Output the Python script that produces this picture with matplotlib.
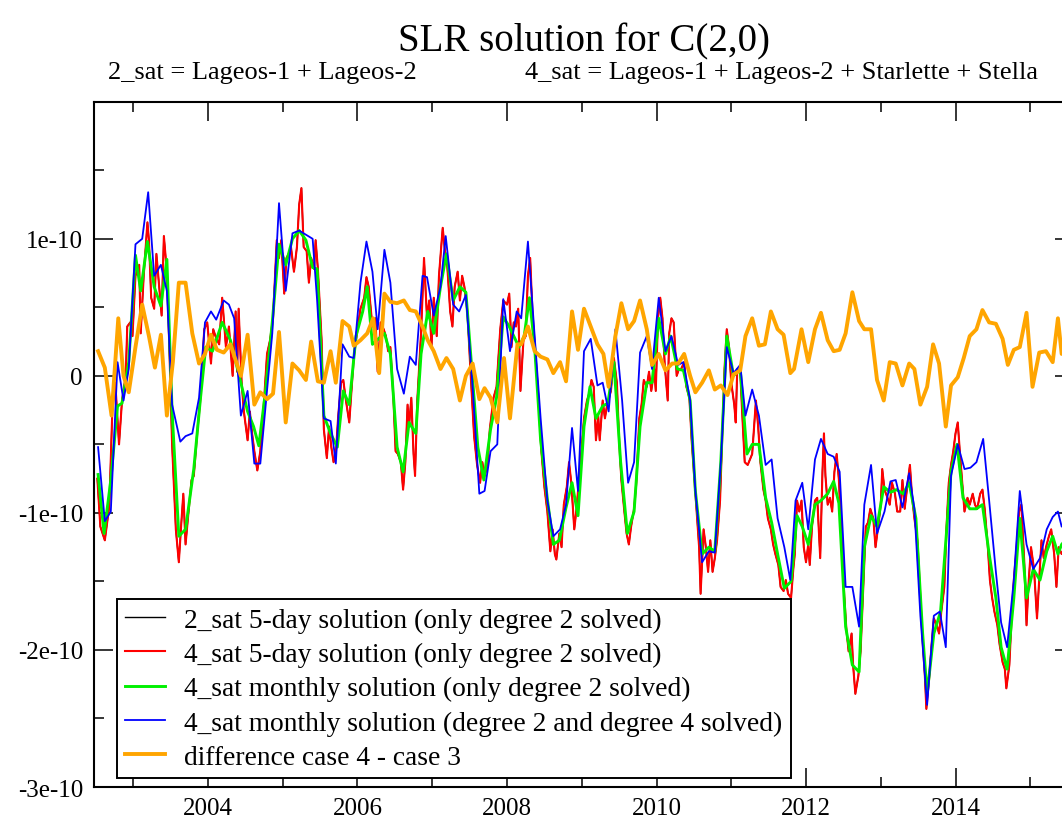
import numpy as np
import matplotlib.pyplot as plt
from matplotlib.ticker import MultipleLocator, FixedLocator, FuncFormatter

plt.rcParams['font.family'] = ['Liberation Serif', 'DejaVu Serif']

UNIT = 1e-10  # all values below are in units of 1e-10

# (decimal year, C(2,0) anomaly / 1e-10)

# 4_sat monthly solution (only degree 2 solved)
sat4_monthly_d2 = [
    (2002.53, -0.72), (2002.61, -1.15), (2002.70, -0.76), (2002.79, -0.22), (2002.85, -0.20),
    (2002.94, 0.10), (2003.03, 0.88), (2003.10, 0.62), (2003.19, 0.98), (2003.28, 0.65),
    (2003.37, 0.51), (2003.45, 0.85), (2003.52, -0.26), (2003.61, -1.17), (2003.70, -1.12),
    (2003.81, -0.68), (2003.90, -0.16), (2003.97, 0.21), (2004.06, 0.18), (2004.19, 0.39),
    (2004.30, 0.26), (2004.44, -0.05), (2004.53, -0.26), (2004.61, -0.37), (2004.68, -0.51),
    (2004.77, -0.11), (2004.86, 0.39), (2004.95, 0.96), (2005.04, 0.81), (2005.13, 1.00),
    (2005.22, 1.06), (2005.31, 0.99), (2005.40, 0.79), (2005.46, 0.78), (2005.55, -0.29),
    (2005.64, -0.42), (2005.73, -0.52), (2005.81, -0.11), (2005.89, -0.21), (2005.98, 0.29),
    (2006.07, 0.47), (2006.13, 0.65), (2006.20, 0.23), (2006.36, 0.31), (2006.44, 0.16),
    (2006.53, -0.52), (2006.61, -0.70), (2006.69, -0.34), (2006.78, -0.42), (2006.85, 0.16),
    (2006.94, 0.47), (2007.02, 0.31), (2007.11, 0.65), (2007.19, 0.89), (2007.28, 0.55),
    (2007.37, 0.65), (2007.45, 0.61), (2007.54, -0.03), (2007.61, -0.52), (2007.69, -0.76),
    (2007.78, -0.39), (2007.86, -0.16), (2007.95, 0.43), (2008.03, 0.36), (2008.16, 0.21),
    (2008.23, 0.29), (2008.30, 0.57), (2008.37, 0.21), (2008.45, -0.47), (2008.54, -0.90),
    (2008.62, -1.23), (2008.70, -1.20), (2008.79, -0.96), (2008.87, -0.78), (2008.95, -1.02),
    (2009.03, -0.37), (2009.11, -0.08), (2009.19, -0.31), (2009.28, -0.22), (2009.35, -0.20),
    (2009.43, 0.10), (2009.52, -0.63), (2009.61, -1.15), (2009.70, -0.99), (2009.78, -0.37),
    (2009.87, -0.05), (2009.94, -0.05), (2010.03, 0.42), (2010.12, 0.16), (2010.19, 0.29),
    (2010.28, 0.05), (2010.36, 0.04), (2010.45, -0.18), (2010.52, -0.84), (2010.61, -1.30),
    (2010.70, -1.25), (2010.78, -1.28), (2010.86, -0.63), (2010.94, 0.29), (2011.03, 0.00),
    (2011.12, 0.05), (2011.21, -0.57), (2011.28, -0.50), (2011.37, -0.50), (2011.46, -0.89),
    (2011.54, -1.07), (2011.62, -1.30), (2011.71, -1.55), (2011.80, -1.50), (2011.88, -1.02),
    (2011.95, -1.10), (2012.03, -1.23), (2012.12, -0.94), (2012.20, -0.91), (2012.29, -0.86),
    (2012.37, -0.77), (2012.44, -0.93), (2012.53, -1.83), (2012.62, -2.11), (2012.71, -2.16),
    (2012.78, -1.25), (2012.87, -1.02), (2012.95, -1.10), (2013.04, -0.81), (2013.13, -0.85),
    (2013.21, -0.83), (2013.30, -0.86), (2013.38, -0.78), (2013.47, -1.04), (2013.56, -1.88),
    (2013.62, -2.32), (2013.71, -1.88), (2013.80, -1.72), (2013.94, -0.70), (2014.02, -0.50),
    (2014.10, -0.89), (2014.19, -0.97), (2014.28, -0.97), (2014.36, -0.94), (2014.45, -1.30),
    (2014.54, -1.62), (2014.61, -1.98), (2014.69, -2.14), (2014.78, -1.62), (2014.86, -1.04),
    (2014.95, -1.62), (2015.04, -1.41), (2015.13, -1.49), (2015.22, -1.28), (2015.30, -1.17),
    (2015.37, -1.30), (2015.42, -1.23), (2015.50, -1.18),
]

# 4_sat monthly solution (degree 2 and degree 4 solved)
sat4_monthly_d24 = [
    (2002.53, -0.52), (2002.62, -1.06), (2002.70, -0.99), (2002.79, 0.10), (2002.87, -0.18),
    (2002.94, 0.05), (2003.03, 0.96), (2003.12, 1.00), (2003.20, 1.34), (2003.28, 0.73),
    (2003.37, 0.81), (2003.45, 0.62), (2003.52, -0.21), (2003.63, -0.48), (2003.70, -0.44),
    (2003.79, -0.42), (2003.88, -0.16), (2003.96, 0.39), (2004.04, 0.47), (2004.11, 0.41),
    (2004.21, 0.55), (2004.28, 0.52), (2004.35, 0.42), (2004.44, -0.29), (2004.53, -0.11),
    (2004.62, -0.64), (2004.70, -0.64), (2004.79, -0.11), (2004.86, 0.31), (2004.95, 1.26),
    (2005.04, 0.62), (2005.13, 1.04), (2005.22, 1.06), (2005.31, 1.03), (2005.40, 1.00),
    (2005.46, 0.55), (2005.55, -0.31), (2005.64, -0.33), (2005.71, -0.64), (2005.80, 0.23),
    (2005.89, 0.14), (2005.95, 0.13), (2006.04, 0.68), (2006.12, 0.98), (2006.20, 0.76),
    (2006.27, 0.34), (2006.36, 0.92), (2006.44, 0.68), (2006.53, 0.05), (2006.62, -0.13),
    (2006.70, 0.14), (2006.78, 0.08), (2006.87, 0.73), (2006.93, 0.72), (2007.02, 0.44),
    (2007.11, 0.65), (2007.18, 1.02), (2007.28, 0.52), (2007.36, 0.47), (2007.45, 0.59),
    (2007.54, -0.08), (2007.63, -0.86), (2007.70, -0.84), (2007.78, -0.55), (2007.87, -0.50),
    (2007.95, 0.56), (2008.04, 0.18), (2008.13, 0.47), (2008.19, 0.42), (2008.28, 0.98),
    (2008.37, 0.29), (2008.45, -0.31), (2008.54, -0.91), (2008.62, -1.17), (2008.71, -1.12),
    (2008.79, -0.94), (2008.87, -0.38), (2008.95, -0.84), (2009.03, 0.18), (2009.12, 0.27),
    (2009.21, -0.07), (2009.28, -0.05), (2009.36, -0.26), (2009.45, 0.34), (2009.54, -0.18),
    (2009.62, -0.78), (2009.70, -0.63), (2009.78, 0.17), (2009.87, 0.29), (2009.94, 0.05),
    (2010.03, 0.57), (2010.12, 0.18), (2010.20, 0.29), (2010.29, 0.08), (2010.36, 0.10),
    (2010.45, -0.18), (2010.52, -0.84), (2010.61, -1.36), (2010.70, -1.28), (2010.78, -1.29),
    (2010.86, -0.63), (2010.94, 0.21), (2011.03, 0.02), (2011.12, 0.08), (2011.19, -0.29),
    (2011.28, -0.10), (2011.37, -0.29), (2011.46, -0.65), (2011.54, -0.61), (2011.62, -1.04),
    (2011.71, -1.25), (2011.79, -1.49), (2011.86, -0.91), (2011.95, -0.78), (2012.03, -1.12),
    (2012.12, -0.61), (2012.20, -0.46), (2012.29, -0.57), (2012.37, -0.59), (2012.45, -0.70),
    (2012.53, -1.54), (2012.62, -1.54), (2012.71, -1.83), (2012.78, -0.94), (2012.87, -0.65),
    (2012.95, -1.15), (2013.05, -0.99), (2013.13, -0.77), (2013.20, -0.76), (2013.29, -0.96),
    (2013.38, -0.71), (2013.45, -0.97), (2013.53, -1.75), (2013.62, -2.40), (2013.71, -1.75),
    (2013.79, -1.72), (2013.87, -1.98), (2013.94, -0.73), (2014.03, -0.50), (2014.12, -0.68),
    (2014.20, -0.67), (2014.28, -0.63), (2014.37, -0.46), (2014.45, -0.91), (2014.54, -1.43),
    (2014.61, -1.80), (2014.69, -1.98), (2014.78, -1.49), (2014.86, -0.84), (2014.95, -1.23),
    (2015.04, -1.41), (2015.13, -1.33), (2015.22, -1.12), (2015.30, -1.03), (2015.37, -0.99),
    (2015.42, -1.10), (2015.50, -1.08),
]

# difference case 4 - case 3
diff_4_3 = [
    (2002.53, 0.18), (2002.62, 0.06), (2002.71, -0.29), (2002.80, 0.42), (2002.87, 0.00),
    (2002.94, -0.12), (2003.03, 0.21), (2003.12, 0.52), (2003.21, 0.29), (2003.29, 0.06),
    (2003.37, 0.30), (2003.45, -0.29), (2003.53, 0.10), (2003.61, 0.68), (2003.70, 0.68),
    (2003.79, 0.31), (2003.88, 0.09), (2003.96, 0.16), (2004.04, 0.30), (2004.12, 0.19),
    (2004.21, 0.17), (2004.30, 0.23), (2004.44, 0.00), (2004.53, 0.30), (2004.62, -0.21),
    (2004.70, -0.12), (2004.79, -0.17), (2004.87, -0.13), (2004.95, 0.32), (2005.04, -0.34),
    (2005.13, 0.09), (2005.22, 0.04), (2005.31, -0.03), (2005.38, 0.25), (2005.47, -0.04),
    (2005.55, -0.05), (2005.64, 0.18), (2005.71, -0.05), (2005.80, 0.40), (2005.89, 0.36),
    (2005.95, 0.22), (2006.04, 0.26), (2006.13, 0.31), (2006.21, 0.42), (2006.29, 0.02),
    (2006.36, 0.60), (2006.44, 0.54), (2006.53, 0.53), (2006.62, 0.55), (2006.70, 0.48),
    (2006.78, 0.47), (2006.87, 0.36), (2006.94, 0.26), (2007.02, 0.18), (2007.11, 0.05),
    (2007.19, 0.13), (2007.28, 0.05), (2007.37, -0.18), (2007.45, 0.00), (2007.54, 0.09),
    (2007.63, -0.17), (2007.70, -0.09), (2007.78, -0.16), (2007.87, -0.34), (2007.96, 0.13),
    (2008.04, -0.31), (2008.14, 0.23), (2008.19, 0.23), (2008.28, 0.36), (2008.37, 0.18),
    (2008.45, 0.14), (2008.54, 0.12), (2008.62, 0.02), (2008.71, 0.10), (2008.79, -0.04),
    (2008.87, 0.47), (2008.95, 0.19), (2009.03, 0.49), (2009.12, 0.36), (2009.21, 0.23),
    (2009.29, 0.16), (2009.36, -0.08), (2009.45, 0.29), (2009.53, 0.53), (2009.62, 0.34),
    (2009.70, 0.40), (2009.78, 0.55), (2009.87, 0.34), (2009.94, 0.08), (2010.03, 0.16),
    (2010.12, 0.04), (2010.21, 0.09), (2010.29, 0.09), (2010.37, 0.16), (2010.45, 0.00),
    (2010.52, -0.12), (2010.61, -0.05), (2010.70, 0.04), (2010.78, -0.10), (2010.86, -0.07),
    (2010.95, -0.14), (2011.03, 0.01), (2011.12, 0.04), (2011.19, 0.29), (2011.28, 0.42),
    (2011.37, 0.22), (2011.45, 0.23), (2011.53, 0.47), (2011.62, 0.34), (2011.70, 0.30),
    (2011.79, 0.02), (2011.84, 0.05), (2011.94, 0.34), (2012.03, 0.10), (2012.12, 0.34),
    (2012.20, 0.46), (2012.29, 0.26), (2012.37, 0.18), (2012.45, 0.19), (2012.53, 0.31),
    (2012.62, 0.61), (2012.71, 0.40), (2012.78, 0.34), (2012.87, 0.34), (2012.95, -0.03),
    (2013.04, -0.18), (2013.12, 0.10), (2013.20, 0.09), (2013.29, -0.07), (2013.38, 0.09),
    (2013.45, 0.05), (2013.53, -0.21), (2013.62, -0.08), (2013.70, 0.23), (2013.78, 0.09),
    (2013.87, -0.37), (2013.94, -0.07), (2014.03, -0.01), (2014.11, 0.13), (2014.19, 0.29),
    (2014.28, 0.34), (2014.36, 0.48), (2014.45, 0.39), (2014.54, 0.38), (2014.63, 0.27),
    (2014.70, 0.08), (2014.78, 0.19), (2014.86, 0.21), (2014.95, 0.46), (2015.03, -0.08),
    (2015.12, 0.17), (2015.21, 0.18), (2015.30, 0.10), (2015.37, 0.42), (2015.42, 0.16),
    (2015.50, 0.20),
]

# 4_sat 5-day solution (only degree 2 solved)
sat4_5day = [
    (2002.52, -0.75), (2002.56, -1.10), (2002.62, -1.20), (2002.68, -0.95), (2002.72, -0.26),
    (2002.76, -0.05), (2002.81, -0.50), (2002.85, -0.18), (2002.90, 0.00), (2002.92, 0.36),
    (2002.96, 0.39), (2002.99, 0.29), (2003.03, 0.73), (2003.08, 0.81), (2003.10, 0.31),
    (2003.14, 0.73), (2003.19, 1.12), (2003.21, 0.99), (2003.24, 0.57), (2003.28, 0.49),
    (2003.31, 0.89), (2003.34, 0.70), (2003.38, 0.44), (2003.41, 1.02), (2003.45, 0.76),
    (2003.48, 0.26), (2003.52, -0.50), (2003.57, -1.12), (2003.61, -1.36), (2003.64, -1.10),
    (2003.67, -0.86), (2003.70, -1.23), (2003.74, -0.99), (2003.78, -0.76), (2003.81, -0.73),
    (2003.86, -0.39), (2003.90, -0.16), (2003.95, 0.34), (2003.99, 0.39), (2004.04, 0.09),
    (2004.07, 0.34), (2004.10, 0.29), (2004.15, 0.23), (2004.19, 0.57), (2004.24, 0.21),
    (2004.28, 0.36), (2004.33, 0.00), (2004.37, 0.47), (2004.39, 0.03), (2004.41, 0.49),
    (2004.45, -0.05), (2004.48, -0.26), (2004.53, -0.47), (2004.56, -0.26), (2004.59, -0.42),
    (2004.62, -0.55), (2004.66, -0.69), (2004.70, -0.55), (2004.75, -0.18), (2004.79, 0.16),
    (2004.83, 0.26), (2004.87, 0.42), (2004.92, 0.99), (2004.95, 0.86), (2004.98, 0.99),
    (2005.02, 0.60), (2005.05, 0.86), (2005.08, 0.89), (2005.11, 0.94), (2005.15, 0.76),
    (2005.19, 0.94), (2005.22, 1.25), (2005.25, 1.37), (2005.28, 0.94), (2005.32, 0.91),
    (2005.35, 0.68), (2005.38, 0.86), (2005.42, 0.78), (2005.44, 0.99), (2005.47, 0.78),
    (2005.52, 0.26), (2005.55, -0.39), (2005.59, -0.60), (2005.62, -0.37), (2005.65, -0.52),
    (2005.68, -0.63), (2005.71, -0.57), (2005.74, -0.31), (2005.78, -0.05), (2005.81, -0.03),
    (2005.84, -0.16), (2005.89, -0.34), (2005.92, -0.11), (2005.95, 0.13), (2006.00, 0.34),
    (2006.04, 0.49), (2006.09, 0.57), (2006.12, 0.72), (2006.15, 0.65), (2006.20, 0.36),
    (2006.24, 0.42), (2006.27, 0.03), (2006.31, 0.39), (2006.35, 0.34), (2006.38, 0.29),
    (2006.41, 0.18), (2006.44, 0.21), (2006.48, -0.16), (2006.51, -0.55), (2006.54, -0.57),
    (2006.58, -0.63), (2006.61, -0.83), (2006.64, -0.63), (2006.67, -0.21), (2006.69, -0.37),
    (2006.72, -0.16), (2006.75, -0.57), (2006.77, -0.73), (2006.80, -0.18), (2006.85, 0.31),
    (2006.89, 0.86), (2006.93, 0.42), (2006.96, 0.55), (2006.99, 0.21), (2007.02, 0.57),
    (2007.06, 0.29), (2007.09, 0.73), (2007.14, 1.08), (2007.17, 0.91), (2007.20, 0.81),
    (2007.24, 0.47), (2007.27, 0.36), (2007.30, 0.65), (2007.34, 0.76), (2007.37, 0.55),
    (2007.40, 0.73), (2007.43, 0.65), (2007.47, 0.47), (2007.51, 0.05), (2007.56, -0.44),
    (2007.60, -0.65), (2007.64, -0.78), (2007.67, -0.63), (2007.70, -0.73), (2007.74, -0.65),
    (2007.77, -0.39), (2007.82, -0.16), (2007.86, -0.08), (2007.91, 0.34), (2007.95, 0.55),
    (2008.00, 0.52), (2008.03, 0.60), (2008.06, 0.21), (2008.09, 0.39), (2008.12, 0.36),
    (2008.15, 0.49), (2008.18, -0.11), (2008.22, 0.26), (2008.25, 0.29), (2008.28, 0.73),
    (2008.31, 0.86), (2008.34, 0.47), (2008.37, 0.23), (2008.42, -0.16), (2008.46, -0.55),
    (2008.50, -0.81), (2008.54, -0.99), (2008.58, -1.28), (2008.61, -1.12), (2008.64, -1.30),
    (2008.66, -1.34), (2008.70, -1.15), (2008.73, -1.25), (2008.76, -0.94), (2008.80, -0.81),
    (2008.83, -0.63), (2008.86, -0.78), (2008.90, -1.12), (2008.93, -0.97), (2008.96, -0.78),
    (2009.00, -0.52), (2009.03, -0.31), (2009.07, -0.18), (2009.10, -0.13), (2009.13, -0.03),
    (2009.16, -0.08), (2009.19, -0.47), (2009.22, -0.29), (2009.24, -0.47), (2009.28, -0.18),
    (2009.31, -0.31), (2009.34, -0.21), (2009.39, -0.11), (2009.43, 0.13), (2009.47, -0.05),
    (2009.50, -0.47), (2009.53, -0.76), (2009.57, -0.99), (2009.60, -1.15), (2009.63, -1.23),
    (2009.66, -1.10), (2009.70, -0.97), (2009.73, -0.78), (2009.77, -0.31), (2009.80, -0.21),
    (2009.83, -0.03), (2009.87, -0.08), (2009.90, 0.03), (2009.93, -0.11), (2009.97, 0.05),
    (2009.99, -0.11), (2010.02, 0.42), (2010.05, 0.57), (2010.08, 0.42), (2010.11, 0.08),
    (2010.15, -0.18), (2010.17, 0.31), (2010.20, 0.42), (2010.23, 0.39), (2010.27, 0.00),
    (2010.30, 0.05), (2010.33, 0.05), (2010.37, 0.10), (2010.40, -0.08), (2010.44, -0.16),
    (2010.47, -0.47), (2010.50, -0.70), (2010.54, -1.02), (2010.57, -1.25), (2010.59, -1.59),
    (2010.63, -1.12), (2010.66, -1.25), (2010.69, -1.43), (2010.72, -1.20), (2010.75, -1.43),
    (2010.78, -1.33), (2010.81, -1.20), (2010.85, -0.91), (2010.88, -0.44), (2010.91, 0.05),
    (2010.94, 0.34), (2010.97, 0.21), (2011.00, -0.05), (2011.04, -0.21), (2011.06, -0.34),
    (2011.08, 0.05), (2011.12, 0.03), (2011.15, -0.31), (2011.18, -0.63), (2011.22, -0.65),
    (2011.25, -0.61), (2011.28, -0.57), (2011.33, -0.18), (2011.36, -0.37), (2011.39, -0.63),
    (2011.43, -0.83), (2011.46, -0.91), (2011.49, -1.04), (2011.53, -1.12), (2011.56, -1.23),
    (2011.59, -1.30), (2011.63, -1.38), (2011.66, -1.54), (2011.70, -1.57), (2011.73, -1.49),
    (2011.76, -1.59), (2011.80, -1.62), (2011.83, -1.41), (2011.85, -1.30), (2011.88, -0.91),
    (2011.91, -0.99), (2011.94, -0.91), (2011.97, -1.25), (2012.00, -1.36), (2012.03, -1.23),
    (2012.05, -1.38), (2012.08, -1.10), (2012.12, -0.91), (2012.15, -0.89), (2012.19, -1.33),
    (2012.22, -0.70), (2012.24, -0.42), (2012.26, -0.73), (2012.29, -0.94), (2012.32, -0.89),
    (2012.35, -0.99), (2012.38, -0.70), (2012.41, -0.57), (2012.44, -0.76), (2012.47, -1.12),
    (2012.51, -1.59), (2012.54, -1.85), (2012.57, -2.01), (2012.61, -1.88), (2012.63, -2.11),
    (2012.66, -2.32), (2012.70, -2.19), (2012.73, -2.01), (2012.77, -1.49), (2012.80, -1.10),
    (2012.83, -1.07), (2012.86, -0.97), (2012.90, -1.04), (2012.93, -1.25), (2012.96, -1.12),
    (2013.00, -0.94), (2013.02, -0.68), (2013.05, -0.83), (2013.09, -0.89), (2013.12, -0.94),
    (2013.15, -0.78), (2013.19, -0.86), (2013.22, -0.99), (2013.26, -0.99), (2013.29, -0.76),
    (2013.32, -0.97), (2013.36, -0.78), (2013.39, -0.65), (2013.42, -0.89), (2013.45, -1.04),
    (2013.49, -1.20), (2013.53, -1.62), (2013.56, -1.93), (2013.59, -2.19), (2013.61, -2.43),
    (2013.65, -2.19), (2013.68, -1.96), (2013.71, -1.77), (2013.75, -1.82), (2013.78, -1.88),
    (2013.81, -1.72), (2013.85, -1.54), (2013.88, -1.10), (2013.91, -0.78), (2013.94, -0.65),
    (2013.97, -0.55), (2014.00, -0.42), (2014.03, -0.34), (2014.06, -0.57), (2014.09, -0.78),
    (2014.12, -0.99), (2014.16, -0.89), (2014.19, -0.94), (2014.23, -0.86), (2014.26, -0.94),
    (2014.29, -0.97), (2014.33, -0.86), (2014.36, -0.83), (2014.39, -0.97), (2014.43, -1.23),
    (2014.46, -1.49), (2014.49, -1.62), (2014.52, -1.72), (2014.56, -1.82), (2014.59, -1.96),
    (2014.63, -2.09), (2014.66, -2.14), (2014.68, -2.28), (2014.72, -2.11), (2014.75, -1.77),
    (2014.78, -1.49), (2014.82, -1.23), (2014.85, -0.99), (2014.88, -0.94), (2014.92, -1.36),
    (2014.95, -1.82), (2014.98, -1.49), (2015.01, -1.25), (2015.05, -1.41), (2015.09, -1.77),
    (2015.12, -1.49), (2015.15, -1.20), (2015.18, -1.33), (2015.22, -1.23), (2015.25, -1.17),
    (2015.28, -1.12), (2015.32, -1.30), (2015.35, -1.54), (2015.38, -1.25), (2015.42, -1.30),
    (2015.50, -1.20),
]

# 2_sat 5-day solution: lies under the red curve almost everywhere
sat2_5day = list(sat4_5day)

labels = [
    "2_sat 5-day solution (only degree 2 solved)",
    "4_sat 5-day solution (only degree 2 solved)",
    "4_sat monthly solution (only degree 2 solved)",
    "4_sat monthly solution (degree 2 and degree 4 solved)",
    "difference case 4 - case 3",
]
series = [sat2_5day, sat4_5day, sat4_monthly_d2, sat4_monthly_d24, diff_4_3]
colors = ["black", "#ff0000", "#00f000", "#0000ff", "#ffa500"]
widths = [1.0, 1.5, 2.1, 1.3, 2.8]

fig = plt.figure(figsize=(10.62, 8.2), dpi=100)
ax = fig.add_axes([0.0885, 0.039, 0.9228, 0.8357])

for i, (pts, lab, col, lw) in enumerate(zip(series, labels, colors, widths)):
    arr = np.array(pts)
    ax.plot(arr[:, 0], arr[:, 1] * UNIT, color=col, lw=lw, label=lab, zorder=2 + i)

ax.set_xlim(2002.475, 2015.585)
ax.set_ylim(-3e-10, 2e-10)

ax.xaxis.set_major_locator(MultipleLocator(2))
ax.xaxis.set_minor_locator(MultipleLocator(1))
ax.yaxis.set_major_locator(FixedLocator([-3e-10, -2e-10, -1e-10, 0.0, 1e-10]))
ax.yaxis.set_minor_locator(FixedLocator([-2.5e-10, -1.5e-10, -0.5e-10, 0.5e-10, 1.5e-10]))


def ylab(v, pos):
    k = int(round(v / UNIT))
    return "0" if k == 0 else "%de-10" % k


ax.yaxis.set_major_formatter(FuncFormatter(ylab))
ax.xaxis.set_major_formatter(FuncFormatter(lambda v, p: "%d" % round(v)))

ax.tick_params(which="both", direction="in", top=True, right=True, width=1.1, labelsize=18)
ax.tick_params(which="major", length=13.5)
ax.tick_params(which="minor", length=7.2)
ax.tick_params(axis="y", pad=8)
ax.tick_params(axis="x", pad=7)
for sp in ax.spines.values():
    sp.set_linewidth(1.5)

leg = ax.legend(loc="lower left", bbox_to_anchor=(0.0235, 0.013), borderaxespad=0,
                fontsize=19.8, fancybox=False, edgecolor="black", framealpha=1,
                handlelength=1.45, handletextpad=0.7, labelspacing=0.33, borderpad=0.3)
leg.get_frame().set_linewidth(1.4)

fig.text(0.55, 1 - 42 / 820, "SLR solution for C(2,0)", ha="center", va="center", fontsize=28)
fig.text(108 / 1062, 1 - 73 / 820, "2_sat = Lageos-1 + Lageos-2", ha="left", va="center", fontsize=19)
fig.text(525 / 1062, 1 - 73 / 820, "4_sat = Lageos-1 + Lageos-2 + Starlette + Stella",
         ha="left", va="center", fontsize=19)

plt.savefig("out.png", dpi=100)
